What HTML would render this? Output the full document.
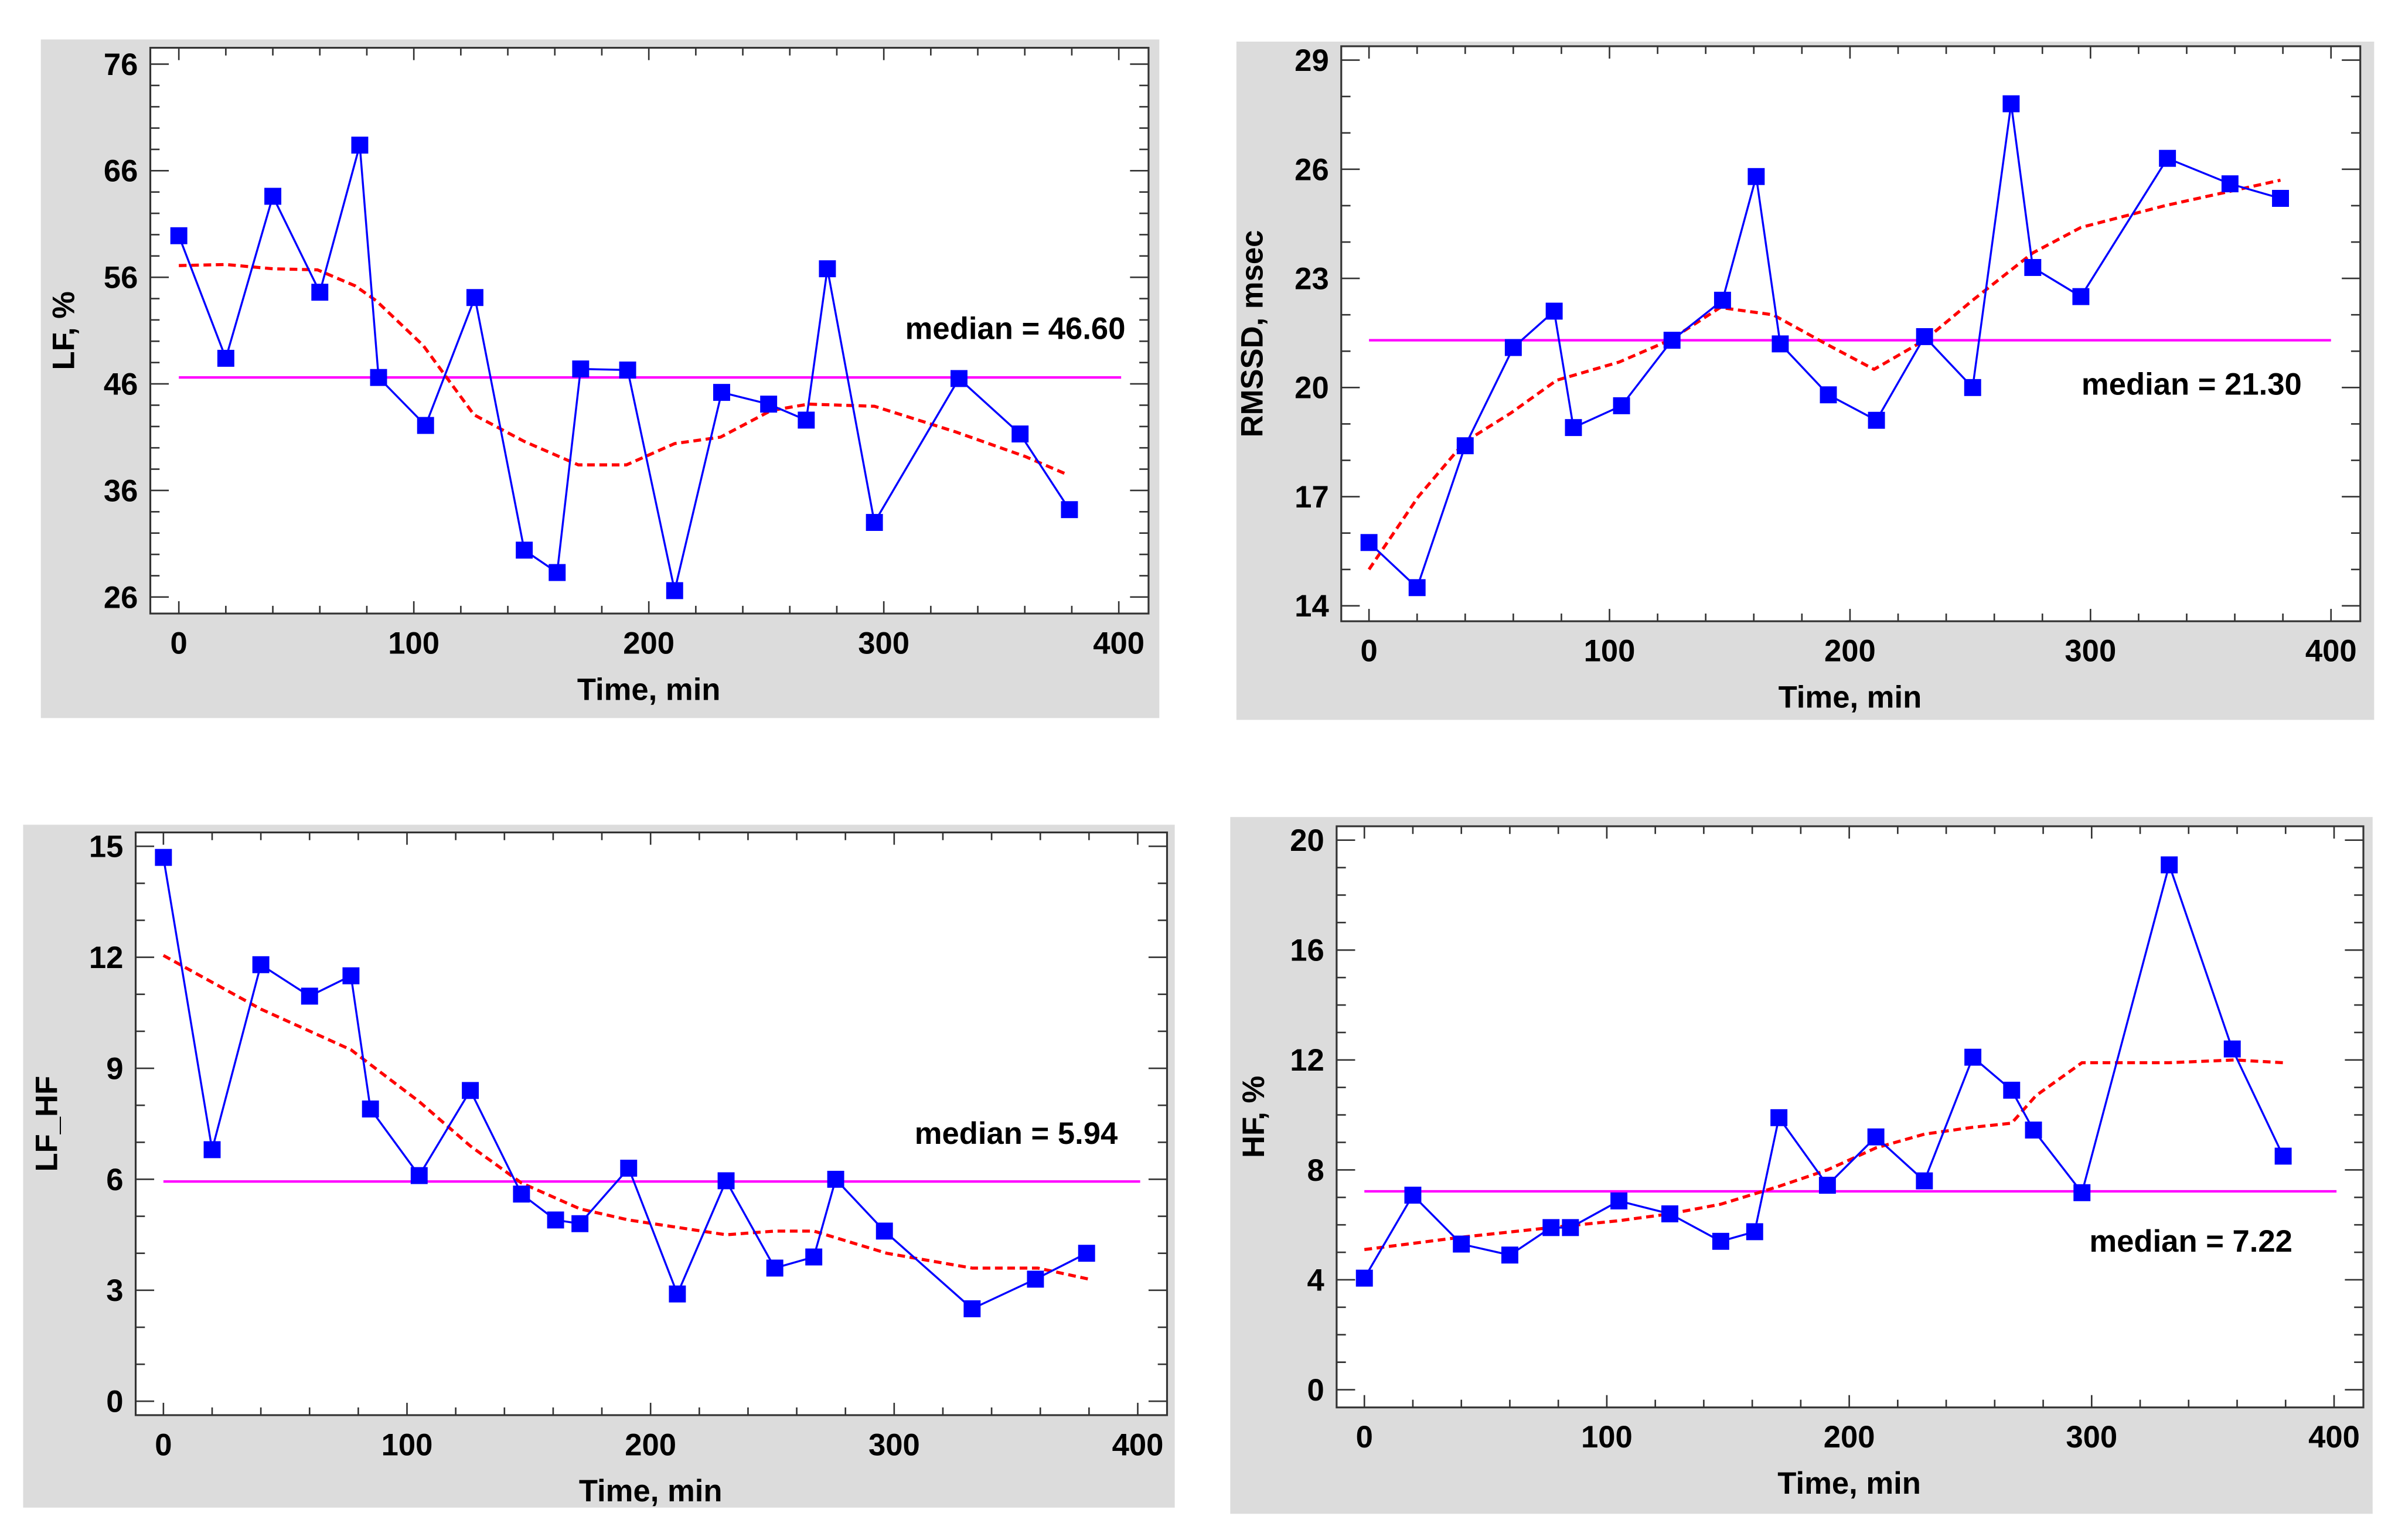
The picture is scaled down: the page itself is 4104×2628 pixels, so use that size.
<!DOCTYPE html>
<html><head><meta charset="utf-8"><style>
html,body{margin:0;padding:0;background:#fff;}
svg{display:block;}
text{font-family:"Liberation Sans",Arial,sans-serif;font-weight:bold;fill:#000;}
</style></head><body>
<svg id="chart" width="4104" height="2628" viewBox="0 0 1560 999" preserveAspectRatio="none" xmlns="http://www.w3.org/2000/svg"></svg>
<script>
// Shared time axis (minutes)
const times = [0,20,40,60,77,85,105,126,147,161,171,191,211,231,251,267,276,296,332,358,379];
// Panel 1: LF, %
const lfValues = [59.9,48.4,63.6,54.6,68.4,46.6,42.1,54.1,30.4,28.3,47.4,47.3,26.6,45.2,44.1,42.6,56.8,33.0,46.5,41.3,34.2];
const lfSmoothX = [0,20,40,59,75,84,104,125.6,147,170,190.5,211,230.5,252,268,296,330.5,360,378];
const lfSmoothY = [57.1,57.2,56.8,56.7,55.2,53.8,49.6,43.1,40.6,38.4,38.4,40.4,41.0,43.5,44.1,43.9,41.5,39.2,37.5];
const lfTicks = [26,36,46,56,66,76];
const lfMedian = 46.60;
// Panel 2: RMSSD, msec
const rmValues = [15.74,14.5,18.4,21.1,22.1,18.9,19.5,21.3,22.4,25.8,21.2,19.8,19.1,21.4,20.0,27.8,23.3,22.5,26.3,25.6,25.2];
const rmSmoothX = [0,20.5,39.7,59,78,104,125,146,168,190,210,231,251,276,296,331,379];
const rmSmoothY = [15.0,17.0,18.5,19.3,20.2,20.7,21.3,22.2,22.0,21.2,20.5,21.3,22.4,23.7,24.4,25.0,25.7];
const rmTicks = [14,17,20,23,26,29];
const rmMedian = 21.30;
// Panel 3: LF_HF
const lhValues = [14.7,6.8,11.8,10.95,11.5,7.9,6.1,8.4,5.6,4.9,4.8,6.3,2.9,5.96,3.6,3.9,6.0,4.6,2.5,3.3,4.0];
const lhSmoothX = [0,40,77,105,126,147,171,191,211,231,251,267,297,332,359,380];
const lhSmoothY = [12.05,10.6,9.5,8.1,6.9,5.9,5.2,4.9,4.7,4.5,4.6,4.6,4.0,3.6,3.6,3.3];
const lhTicks = [0,3,6,9,12,15];
const lhMedian = 5.94;
// Panel 4: HF, %
const hfValues = [4.06,7.08,5.3,4.9,5.9,5.9,6.87,6.4,5.4,5.75,9.9,7.44,9.2,7.6,12.1,10.9,9.45,7.17,19.1,12.4,8.5];
const hfSmoothX = [0,40,77,105,126,147,171,191,211,231,251,267,277,296,332,359,379];
const hfSmoothY = [5.1,5.55,5.9,6.15,6.4,6.75,7.4,8.0,8.8,9.3,9.55,9.7,10.7,11.9,11.9,12.0,11.9];
const hfTicks = [0,4,8,12,16,20];
const hfMedian = 7.22;
const xTicks = [0,100,200,300,400];

const NS = "http://www.w3.org/2000/svg";
const svg = document.getElementById("chart");
function mk(tag, attrs, parent){
  const e = document.createElementNS(NS, tag);
  for (const k in attrs) e.setAttribute(k, attrs[k]);
  (parent||svg).appendChild(e);
  return e;
}

function panel(cfg){
  const g = mk("g", {});
  
  
  const bg = mk("rect", {x:cfg.bg[0], y:cfg.bg[1], width:cfg.bg[2]-cfg.bg[0], height:cfg.bg[3]-cfg.bg[1], fill:"#dcdcdc"}, g);
  
  
  const pl = mk("rect", {x:cfg.box[0], y:cfg.box[1], width:cfg.box[2]-cfg.box[0], height:cfg.box[3]-cfg.box[1], fill:"#fff"}, g);
  
  
  const X = v => cfg.x0 + (v-0)/400*(cfg.x400-cfg.x0);
  const Y = v => cfg.yBot + (v-cfg.yMin)/(cfg.yMax-cfg.yMin)*(cfg.yTop-cfg.yBot);
  const L = cfg.box[0], R = cfg.box[2], T = cfg.box[1], B = cfg.box[3];
  // y ticks
  const yt = mk("g", {stroke:"#333","stroke-width":1}, g);
  
  
  for (let v = cfg.yMin; v <= cfg.yMax + 1e-9; v += cfg.yMinor){
    const major = cfg.yTicksArr.some(t => Math.abs(t-v) < 1e-6);
    const len = major ? 12 : 6;
    const y = Y(v);
    mk("line", {x1:L, x2:L+len, y1:y, y2:y}, yt);
    mk("line", {x1:R, x2:R-len, y1:y, y2:y}, yt);
  }
  cfg.yTicksArr.forEach(v => {
    const t = mk("text", {x:L-8, y:Y(v)+7, "text-anchor":"end", "font-size":20, stroke:"none"}, g);
    t.textContent = String(v);
    
    
  });
  // x ticks
  const xt = mk("g", {stroke:"#333","stroke-width":1}, g);
  
  
  for (let v = 0; v <= 400; v += 20){
    const major = v % 100 === 0;
    const x = X(v);
    mk("line", {x1:x, x2:x, y1:B, y2:B-(major?8:5)}, xt);
    mk("line", {x1:x, x2:x, y1:T, y2:T+(major?8:5)}, xt);
  }
  xTicks.forEach(v => {
    const t = mk("text", {x:X(v), y:B+26, "text-anchor":"middle", "font-size":20}, g);
    t.textContent = String(v);
    
    
  });
  const frame = mk("rect", {x:L, y:T, width:R-L, height:B-T, fill:"none", stroke:"#333", "stroke-width":1.2}, g);
  
  
  const xl = mk("text", {x:(X(0)+X(400))/2, y:B+56, "text-anchor":"middle", "font-size":20}, g);
  xl.textContent = "Time, min";
  
  
  const yl = mk("text", {x:0, y:0, "text-anchor":"middle", "font-size":20, transform:`translate(${cfg.ylx},${(T+B)/2}) rotate(-90)`}, g);
  yl.textContent = cfg.ylabel;
  
  
  // median line
  const ml = mk("line", {x1:X(0), x2:X(cfg.medEnd), y1:Y(cfg.median), y2:Y(cfg.median), stroke:"#ff00ff", "stroke-width":1.6}, g);
  
  
  const mt = mk("text", {x:cfg.medText[0], y:cfg.medText[1], "text-anchor":"end", "font-size":20}, g);
  mt.textContent = "median = " + cfg.median.toFixed(2);
  
  
  // smooth
  const sp = mk("polyline", {points: cfg.sx.map((v,i)=>X(v)+","+Y(cfg.sy[i])).join(" "), fill:"none", stroke:"#ff0000", "stroke-width":2, "stroke-dasharray":"5,3"}, g);
  
  
  // series
  const ln = mk("polyline", {points: times.map((v,i)=>X(v)+","+Y(cfg.vals[i])).join(" "), fill:"none", stroke:"#0000ff", "stroke-width":1.3}, g);
  
  
  times.forEach((v,i) => {
    const m = mk("rect", {x:X(v)-5.5, y:Y(cfg.vals[i])-5.5, width:11, height:11, fill:"#0000ff"}, g);
    
    
  });
}

panel({name:"lf", bg:[26.5,25.6,752,465.8], box:[97.5,31,745,398], x0:116, x400:725.7,
  yMin:26, yMax:76, yBot:387.3, yTop:41.6, yMinor:2, yTicksArr:lfTicks, ylabel:"LF, %", ylx:48,
  median:lfMedian, medEnd:401, medText:[730,220], vals:lfValues, sx:lfSmoothX, sy:lfSmoothY});
panel({name:"rmssd", bg:[802,27,1540,467], box:[870,30,1531,403], x0:888, x400:1512,
  yMin:14, yMax:29, yBot:393, yTop:39, yMinor:1, yTicksArr:rmTicks, ylabel:"RMSSD, msec", ylx:819,
  median:rmMedian, medEnd:400, medText:[1493,256], vals:rmValues, sx:rmSmoothX, sy:rmSmoothY});
panel({name:"lf-hf", bg:[15,535,762,978], box:[88,540,757,918], x0:106, x400:738,
  yMin:0, yMax:15, yBot:909, yTop:549, yMinor:1, yTicksArr:lhTicks, ylabel:"LF_HF", ylx:37,
  median:lhMedian, medEnd:401, medText:[725,742], vals:lhValues, sx:lhSmoothX, sy:lhSmoothY});
panel({name:"hf", bg:[798,530,1539,982], box:[867,536,1533,913], x0:885, x400:1514,
  yMin:0, yMax:20, yBot:901.5, yTop:545, yMinor:1, yTicksArr:hfTicks, ylabel:"HF, %", ylx:820,
  median:hfMedian, medEnd:401, medText:[1487,812], vals:hfValues, sx:hfSmoothX, sy:hfSmoothY});
</script>
</body></html>
